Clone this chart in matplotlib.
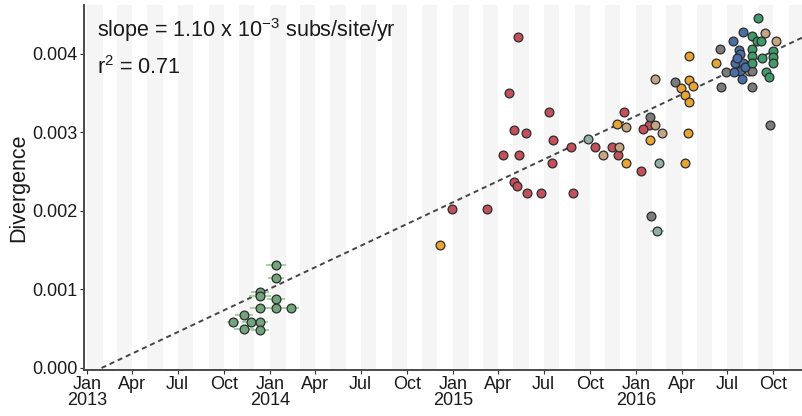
import matplotlib
matplotlib.use("Agg")
import matplotlib.pyplot as plt
import matplotlib.dates as mdates
import numpy as np
import pandas as pd

plt.rcParams['font.family'] = ['Liberation Sans', 'DejaVu Sans']
plt.rcParams['mathtext.default'] = 'regular'

# ---------------- data ----------------
green14_dates = ["2014-01-12", "2014-01-12", "2013-12-12", "2013-12-12", "2014-01-12",
                 "2014-01-12", "2013-12-12", "2014-02-12", "2013-11-11", "2013-10-20",
                 "2013-11-24", "2013-12-12", "2013-11-11", "2013-12-12"]
green14_vals = [1.312e-3, 1.150e-3, 0.972e-3, 0.917e-3, 0.875e-3,
                0.768e-3, 0.768e-3, 0.761e-3, 0.675e-3, 0.586e-3,
                0.586e-3, 0.586e-3, 0.493e-3, 0.484e-3]
green14_err_days = [20, 16, 18, 22, 18, 22, 20, 16, 18, 12, 18, 16, 20, 18]

red_dates = ["2014-12-29", "2015-03-10", "2015-05-11", "2015-04-22", "2015-07-11",
             "2015-05-02", "2015-05-27", "2015-07-19", "2015-04-11", "2015-05-13",
             "2015-07-17", "2015-05-02", "2015-05-09", "2015-05-29", "2015-06-26",
             "2015-08-29", "2015-08-25", "2015-10-11", "2015-11-14", "2015-11-27",
             "2015-12-07", "2016-01-26", "2016-01-14", "2016-01-11"]
red_vals = [2.030e-3, 2.030e-3, 4.213e-3, 3.500e-3, 3.258e-3,
            3.032e-3, 2.998e-3, 2.905e-3, 2.714e-3, 2.714e-3,
            2.616e-3, 2.366e-3, 2.323e-3, 2.233e-3, 2.233e-3,
            2.233e-3, 2.812e-3, 2.812e-3, 2.816e-3, 2.718e-3,
            3.258e-3, 3.096e-3, 3.041e-3, 2.514e-3]

orange_dates = ["2014-12-07", "2015-11-25", "2015-12-11", "2016-01-28", "2016-04-07",
                "2016-04-14", "2016-04-16", "2016-06-09", "2016-04-16", "2016-04-23",
                "2016-03-31", "2016-04-07", "2016-04-15"]
orange_vals = [1.567e-3, 3.105e-3, 2.616e-3, 2.905e-3, 2.616e-3,
               2.998e-3, 3.971e-3, 3.882e-3, 3.669e-3, 3.593e-3,
               3.563e-3, 3.478e-3, 3.393e-3]

grey_dates = ["2016-01-28", "2016-01-31", "2016-03-18", "2016-06-16", "2016-06-28",
              "2016-06-18", "2016-08-20", "2016-08-20", "2016-09-24"]
grey_vals = [3.202e-3, 1.937e-3, 3.648e-3, 4.068e-3, 3.775e-3,
             3.584e-3, 3.784e-3, 3.584e-3, 3.096e-3]

tan_dates = ["2015-10-27", "2015-11-28", "2015-12-11", "2016-02-07", "2016-02-22",
             "2016-02-07", "2016-09-14", "2016-10-07", "2016-08-13"]
tan_vals = [2.714e-3, 2.820e-3, 3.067e-3, 3.096e-3, 2.998e-3,
            3.682e-3, 4.264e-3, 4.170e-3, 3.784e-3]

sage_dates = ["2015-09-27", "2016-02-15", "2016-02-12"]
sage_vals = [2.914e-3, 2.616e-3, 1.745e-3]
sage_err_days = [0, 0, 14]

blue_dates = ["2016-08-02", "2016-07-12", "2016-07-24", "2016-07-26", "2016-07-16",
              "2016-08-02", "2016-07-26", "2016-07-31", "2016-07-20", "2016-08-06",
              "2016-07-14"]
blue_vals = [4.284e-3, 4.170e-3, 4.051e-3, 4.000e-3, 3.889e-3,
             3.882e-3, 3.788e-3, 3.682e-3, 3.949e-3, 3.835e-3,
             3.771e-3]

green16_dates = ["2016-08-31", "2016-08-20", "2016-08-30", "2016-09-06", "2016-08-19",
                 "2016-10-01", "2016-08-19", "2016-09-09", "2016-10-01", "2016-08-20",
                 "2016-10-01", "2016-09-17", "2016-09-22"]
green16_vals = [4.455e-3, 4.230e-3, 4.170e-3, 4.170e-3, 4.068e-3,
                4.042e-3, 3.975e-3, 3.946e-3, 3.966e-3, 3.882e-3,
                3.882e-3, 3.775e-3, 3.711e-3]

slope_per_year = 1.10e-3
root_date = "2013-01-30"
r_squared = 0.71

y_ticks = [0.000, 0.001, 0.002, 0.003, 0.004]

# ---------------- figure ----------------
fig = plt.figure(figsize=(8.03, 4.16), dpi=100)
ax = fig.add_axes([84/803, 1 - 370/416, 1 - 84/803, 365/416])

xmin = pd.Timestamp("2012-12-26")
xmax = pd.Timestamp("2016-11-29")
ax.set_xlim(xmin, xmax)
ax.set_ylim(-0.0000255, 0.004624)

# alternating month stripes
months = pd.date_range("2012-12-01", "2017-01-01", freq="MS")
for m in months:
    if m.month % 2 == 1:
        ax.axvspan(m, m + pd.offsets.MonthBegin(1), color="#f5f5f5", lw=0, zorder=0)

# regression line
t0 = pd.Timestamp(root_date)
line_x = pd.to_datetime([t0, xmax])
line_y = [slope_per_year * (d - t0).days / 365.25 for d in line_x]
ax.plot(line_x, line_y, ls=(0, (2.6, 2.0)), color="#444444", lw=1.4, zorder=2)

def scatter(dates, vals, color, err=None, errcolor=None):
    d = pd.to_datetime(dates)
    if err is not None:
        for di, v, e in zip(d, vals, err):
            if e > 0:
                ax.plot([di - pd.Timedelta(days=e), di + pd.Timedelta(days=e)], [v, v],
                        color=errcolor, lw=1.3, zorder=3, solid_capstyle="butt")
    ax.scatter(d, vals, s=40, facecolor=color, edgecolor="#2b2b2b", linewidth=0.9, zorder=4)

scatter(green14_dates, green14_vals, "#72a57c", green14_err_days, "#9ccc9f")
scatter(red_dates, red_vals, "#c4505c")
scatter(sage_dates, sage_vals, "#8fb0a2", sage_err_days, "#a6cfae")
scatter(tan_dates, tan_vals, "#c6a584")
scatter(orange_dates, orange_vals, "#e9a534")
scatter(grey_dates, grey_vals, "#7c7c7c")
scatter(blue_dates, blue_vals, "#4a6ea6")
scatter(green16_dates, green16_vals, "#3f9a6c")

# axes styling
for s in ["top", "right"]:
    ax.spines[s].set_visible(False)
for s in ["left", "bottom"]:
    ax.spines[s].set_color("#4a4a4a")
    ax.spines[s].set_linewidth(1.4)

ax.set_yticks(y_ticks)
ax.set_yticklabels([f"{v:.3f}" for v in y_ticks])

qticks = pd.date_range("2013-01-01", "2016-10-01", freq="QS")
ax.set_xticks(qticks)
labels = []
for q in qticks:
    lab = q.strftime("%b")
    if q.month == 1:
        lab += "\n" + str(q.year)
    labels.append(lab)
ax.set_xticklabels(labels, linespacing=0.95)

ax.tick_params(axis="both", labelsize=13, colors="#333333", length=3, width=0.8,
               pad=1.5, labelcolor="#1a1a1a")
ax.tick_params(axis="x", pad=1)

ax.set_ylabel("Divergence", fontsize=15.5, color="#1a1a1a", labelpad=2)

ax.text(0.018, 0.93, r"slope = 1.10 x 10$^{-3}$ subs/site/yr", transform=ax.transAxes,
        fontsize=15.5, va="center", ha="left", color="#1a1a1a")
ax.text(0.018, 0.83, f"r$^{{2}}$ = {r_squared:.2f}", transform=ax.transAxes,
        fontsize=15.5, va="center", ha="left", color="#1a1a1a")

fig.savefig("out.png", dpi=100)
